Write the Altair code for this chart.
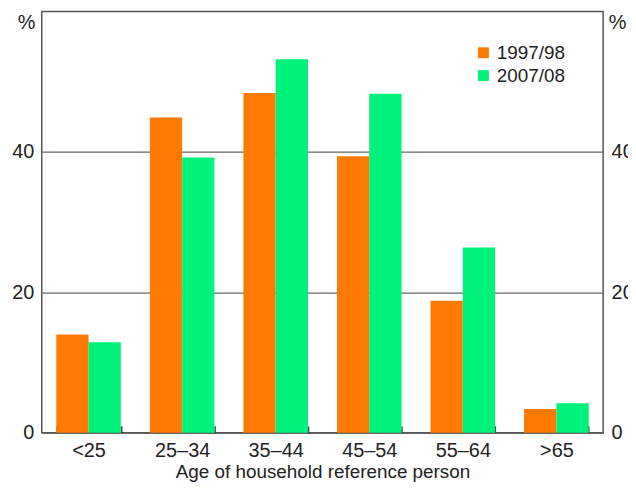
import altair as alt
import pandas as pd

ages = ["<25", "25–34", "35–44", "45–54", "55–64", ">65"]
years = ["1997/98", "2007/08"]
s1997 = [14.0, 44.9, 48.4, 39.4, 18.8, 3.4]
s2007 = [12.9, 39.2, 53.2, 48.3, 26.4, 4.2]
y_ticks = [0, 20, 40]

rows = []
for a, v1, v2 in zip(ages, s1997, s2007):
    rows.append({"age": a, "year": years[0], "value": v1})
    rows.append({"age": a, "year": years[1], "value": v2})
df = pd.DataFrame(rows)

ORANGE = "#ff7a00"
GREEN = "#00f27a"
FONT = "Liberation Sans"
TXT = "#222222"
FS = 20

xscale = alt.Scale(paddingInner=0.31, paddingOuter=0.155)
yscale = alt.Scale(domain=[0, 60], nice=False)
xo = alt.XOffset("year:N", sort=years, scale=alt.Scale(paddingInner=0, paddingOuter=0))

left_axis = alt.Axis(
    orient="left", values=y_ticks, grid=True, gridColor="#666666", gridWidth=1.2,
    ticks=False, domain=False, labelFontSize=FS, labelColor=TXT, labelFont=FONT,
    labelPadding=8, title="%", titleAngle=0, titleAlign="right", titleBaseline="middle",
    titleX=-7, titleY=11, titleFontSize=FS, titleFontWeight="normal", titleColor=TXT,
    titleFont=FONT,
)
right_axis = alt.Axis(
    orient="right", values=y_ticks, grid=False,
    ticks=False, domain=False, labelFontSize=FS, labelColor=TXT, labelFont=FONT,
    labelPadding=8, title="%", titleAngle=0, titleAlign="left", titleBaseline="middle",
    titleX=5, titleY=11, titleFontSize=FS, titleFontWeight="normal", titleColor=TXT,
    titleFont=FONT,
)
x_axis = alt.Axis(
    orient="bottom",
    title="Age of household reference person", labelAngle=0, tickBand="extent",
    ticks=True, tickSize=7, offset=-7, tickColor="#444444", tickWidth=1.5,
    domain=False, labelFontSize=FS, labelColor=TXT, labelFont=FONT, labelPadding=8,
    titleFontSize=19, titleFontWeight="normal", titleColor=TXT, titleFont=FONT,
    titlePadding=2,
)

bars = alt.Chart(df).mark_bar().encode(
    x=alt.X("age:N", sort=ages, scale=xscale, axis=x_axis),
    xOffset=xo,
    y=alt.Y("value:Q", scale=yscale, axis=left_axis),
    color=alt.Color(
        "year:N", sort=years,
        scale=alt.Scale(domain=years, range=[ORANGE, GREEN]),
        legend=alt.Legend(
            title=None, orient="none", legendX=435, legendY=32, padding=0,
            symbolType="square", symbolSize=121, symbolStrokeWidth=0,
            labelFontSize=19, labelFont=FONT, labelColor=TXT, labelOffset=4,
            rowPadding=3,
        ),
    ),
)

ghost = alt.Chart(df).mark_bar(opacity=0).encode(
    x=alt.X("age:N", sort=ages, scale=xscale, axis=None),
    xOffset=xo,
    y=alt.Y("value:Q", scale=yscale, axis=right_axis),
)

chart = (
    alt.layer(bars, ghost)
    .resolve_axis(y="independent", x="independent")
    .properties(
        width=565, height=424,
        background="white",
        autosize=alt.AutoSizeParams(type="none"),
        padding={"left": 34, "top": 2, "right": 25, "bottom": 51},
    )
    .configure_view(stroke="#555555", strokeWidth=1.5)
)

chart.save("out.html", embed_options={"renderer": "svg", "actions": False})
